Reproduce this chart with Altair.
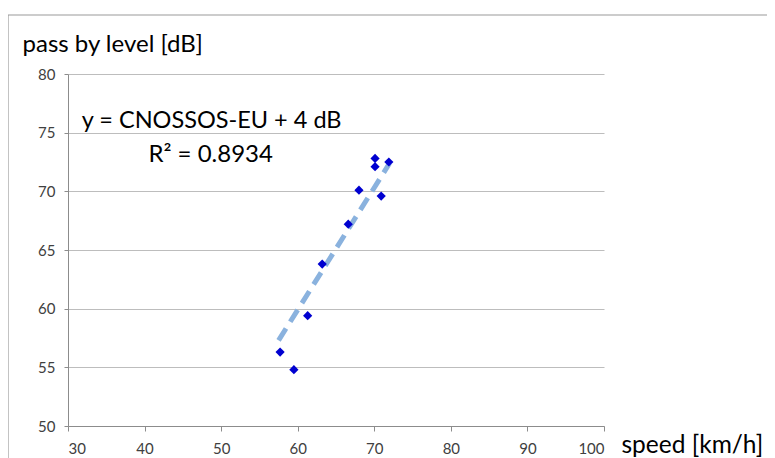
import altair as alt
import pandas as pd

# measured points
speed = [57.7, 59.5, 61.3, 63.2, 66.6, 68.0, 70.1, 70.1, 70.9, 71.9]
level = [56.3, 54.8, 59.4, 63.8, 67.2, 70.1, 72.8, 72.1, 69.6, 72.5]
# CNOSSOS-EU + 4 dB curve
fit_speed = [57.5, 64.8, 72.0]
fit_level = [57.3, 64.9, 72.4]
x_ticks = [30, 40, 50, 60, 70, 80, 90, 100]
y_ticks = [50, 55, 60, 65, 70, 75, 80]
eq_text = ["y = CNOSSOS-EU + 4 dB"]
r2_text = ["R² = 0.8934"]

FONT = "Lato"
W, H = 536, 352

pts = pd.DataFrame({"speed": speed, "level": level})
fit = pd.DataFrame({"speed": fit_speed, "level": fit_level})

xs = alt.Scale(domain=[30, 100], nice=False, zero=False)
ys = alt.Scale(domain=[50, 80], nice=False, zero=False)

x_axis = alt.Axis(values=x_ticks, grid=False, domainColor="#8c8c8c", tickColor="#8c8c8c",
                  tickSize=5, labelFontSize=15, labelColor="#404040", labelFont=FONT,
                  labelPadding=10, title="speed [km/h]", titleFont=FONT, titleFontSize=24.5,
                  titleFontWeight="normal", titleColor="#000000", titleAnchor="start",
                  titleAlign="left", titleBaseline="alphabetic", titleX=W + 17, titleY=26)
y_axis = alt.Axis(values=y_ticks, grid=True, gridColor="#bdbdbd", gridWidth=1.2,
                  domainColor="#8c8c8c", tickColor="#8c8c8c", tickSize=4,
                  labelFontSize=15, labelColor="#404040", labelFont=FONT, labelPadding=9,
                  title="pass by level [dB]", titleFont=FONT, titleFontSize=24,
                  titleFontWeight="normal", titleColor="#000000", titleAngle=0,
                  titleAlign="left", titleBaseline="alphabetic", titleX=-46, titleY=-23)

line = alt.Chart(fit).mark_line(color="#8ab2de", strokeWidth=5, strokeDash=[14, 8]).encode(
    x=alt.X("speed:Q", scale=xs, axis=x_axis),
    y=alt.Y("level:Q", scale=ys, axis=y_axis),
)
points = alt.Chart(pts).mark_point(shape="diamond", filled=True, color="#0000d0", size=85, opacity=1).encode(
    x=alt.X("speed:Q", scale=xs),
    y=alt.Y("level:Q", scale=ys),
)

eq = alt.Chart(pd.DataFrame({"t": eq_text})).mark_text(
    font=FONT, fontSize=23.5, align="left", baseline="alphabetic", color="#000000"
).encode(x=alt.datum(31.8), y=alt.datum(75.4), text="t:N")
r2 = alt.Chart(pd.DataFrame({"t": r2_text})).mark_text(
    font=FONT, fontSize=24, align="left", baseline="alphabetic", color="#000000"
).encode(x=alt.datum(40.5), y=alt.datum(72.5), text="t:N")

frame_top = alt.Chart(pd.DataFrame({"a": [0]})).mark_rule(color="#9a9a9a", strokeWidth=1.2).encode(
    x=alt.value(-60), x2=alt.value(W + 200), y=alt.value(-59))
frame_left = alt.Chart(pd.DataFrame({"a": [0]})).mark_rule(color="#9a9a9a", strokeWidth=1.2).encode(
    x=alt.value(-60), y=alt.value(-59), y2=alt.value(H + 100))

chart = alt.layer(frame_top, frame_left, line, points, eq, r2).properties(
    width=W, height=H,
    autosize=alt.AutoSizeParams(type="none"),
    padding={"left": 60, "top": 66, "right": 163, "bottom": 32},
    background="white",
).configure_view(stroke=None)

chart.save("out.html", embed_options={"renderer": "svg", "actions": False})
